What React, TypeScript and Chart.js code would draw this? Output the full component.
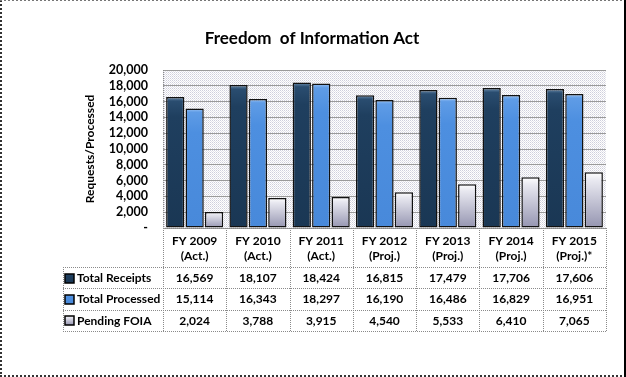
import React, { useEffect, useRef } from "react";
import { Chart, registerables } from "chart.js";

Chart.register(...registerables);

const TITLE = "Freedom  of Information Act";
const Y_TITLE = "Requests/Processed";
const CATEGORIES: string[][] = [
  ["FY 2009", "(Act.)"],
  ["FY 2010", "(Act.)"],
  ["FY 2011", "(Act.)"],
  ["FY 2012", "(Proj.)"],
  ["FY 2013", "(Proj.)"],
  ["FY 2014", "(Proj.)"],
  ["FY 2015", "(Proj.)*"],
];
const SERIES_NAMES = ["Total Receipts", "Total Processed", "Pending FOIA"];
const TOTAL_RECEIPTS = [16569, 18107, 18424, 16815, 17479, 17706, 17606];
const TOTAL_PROCESSED = [15114, 16343, 18297, 16190, 16486, 16829, 16951];
const PENDING_FOIA = [2024, 3788, 3915, 4540, 5533, 6410, 7065];
const Y_MIN = 0;
const Y_MAX = 20000;
const Y_STEP = 2000;

const FONT = "Lato, 'Liberation Sans', sans-serif";

// gradient stops per series [offset, color]
const SERIES_STOPS: [number, string][][] = [
  [
    [0, "#6d8fb0"],
    [0.03, "#2a4d70"],
    [0.15, "#1f3f5f"],
    [1, "#1a3754"],
  ],
  [
    [0, "#9cc4f4"],
    [0.03, "#5f9ce6"],
    [0.2, "#4d8fe0"],
    [1, "#4889da"],
  ],
  [
    [0, "#ffffff"],
    [0.15, "#e8e8f0"],
    [1, "#9494b0"],
  ],
];
const SERIES_FALLBACK = ["#1f3f5f", "#4d8fe0", "#b8b8cc"];

const fmt = (v: number) => v.toLocaleString("en-US");

function makeGradient(ctx: CanvasRenderingContext2D, y0: number, y1: number, stops: [number, string][]) {
  const g = ctx.createLinearGradient(0, y0, 0, y1 === y0 ? y0 + 1 : y1);
  stops.forEach(([o, c]) => g.addColorStop(o, c));
  return g;
}

const barFill = (si: number) => (c: any) => {
  const chart = c.chart;
  if (!chart.chartArea || c.type !== "data") return SERIES_FALLBACK[si];
  const y = chart.scales.y;
  const top = y.getPixelForValue(c.raw);
  const bottom = y.getPixelForValue(0);
  return makeGradient(chart.ctx, top, bottom, SERIES_STOPS[si]);
};

let patternCache: CanvasPattern | null = null;
function getPattern(ctx: CanvasRenderingContext2D) {
  if (patternCache) return patternCache;
  const c = document.createElement("canvas");
  c.width = 2;
  c.height = 2;
  const p = c.getContext("2d")!;
  p.fillStyle = "#ffffff";
  p.fillRect(0, 0, 2, 2);
  p.fillStyle = "#cfcfdc";
  p.fillRect(0, 0, 1, 1);
  p.fillStyle = "#e4e4ea";
  p.fillRect(1, 1, 1, 1);
  patternCache = ctx.createPattern(c, "repeat");
  return patternCache;
}

const decorPlugin = {
  id: "decor",
  beforeDraw(chart: any) {
    const { ctx, chartArea: a, width, height } = chart;
    ctx.save();
    ctx.fillStyle = "#ffffff";
    ctx.fillRect(0, 0, width, height);
    const pat = getPattern(ctx);
    if (pat) {
      ctx.fillStyle = pat;
      ctx.fillRect(a.left, a.top, a.right - a.left, a.bottom - a.top);
    }
    ctx.restore();
  },
  afterDraw(chart: any) {
    const { ctx, chartArea: a, width, height, scales } = chart;
    const x = scales.x;
    const n = CATEGORIES.length;
    const colW = (a.right - a.left) / n;
    const headerBottom = a.bottom + 39;
    const rowH = 21.3;
    const tableBottom = headerBottom + rowH * 3;
    const tableLeft = 63;

    ctx.save();
    ctx.strokeStyle = "#8a8a8a";
    ctx.lineWidth = 1;
    ctx.setLineDash([1, 1]);
    const hline = (y: number, x0: number, x1: number) => {
      ctx.beginPath();
      ctx.moveTo(x0, Math.round(y) + 0.5);
      ctx.lineTo(x1, Math.round(y) + 0.5);
      ctx.stroke();
    };
    const vline = (xx: number, y0: number, y1: number) => {
      ctx.beginPath();
      ctx.moveTo(Math.round(xx) + 0.5, y0);
      ctx.lineTo(Math.round(xx) + 0.5, y1);
      ctx.stroke();
    };
    hline(a.bottom, a.left, a.right);
    for (let r = 0; r <= 3; r++) hline(headerBottom + rowH * r, tableLeft, a.right);
    vline(a.left, a.top, tableBottom);
    for (let i = 1; i <= n; i++) vline(a.left + colW * i, a.bottom, tableBottom);
    vline(tableLeft, headerBottom, tableBottom);
    ctx.setLineDash([]);

    ctx.fillStyle = "#000";
    ctx.textAlign = "center";
    ctx.textBaseline = "middle";
    ctx.font = `bold 12px ${FONT}`;
    CATEGORIES.forEach((lines, i) => {
      const cx = x.getPixelForValue(i);
      lines.forEach((t, k) => ctx.fillText(t, cx, a.bottom + 13 + k * 15));
    });

    const rows = [TOTAL_RECEIPTS, TOTAL_PROCESSED, PENDING_FOIA];
    rows.forEach((vals, r) => {
      const cy = headerBottom + rowH * r + rowH / 2 + 0.5;
      const kx = 65;
      const ks = 9;
      const ky = Math.round(cy - ks / 2);
      ctx.fillStyle = makeGradient(ctx, ky, ky + ks, SERIES_STOPS[r]);
      ctx.fillRect(kx, ky, ks, ks);
      ctx.strokeStyle = "#000";
      ctx.lineWidth = 1.5;
      ctx.strokeRect(kx, ky, ks, ks);
      ctx.fillStyle = "#000";
      ctx.textAlign = "left";
      ctx.fillText(SERIES_NAMES[r], 77, cy);
      ctx.textAlign = "center";
      vals.forEach((v, i) => ctx.fillText(fmt(v), x.getPixelForValue(i), cy));
    });

    ctx.font = `bold 17px ${FONT}`;
    ctx.textAlign = "center";
    ctx.textBaseline = "alphabetic";
    ctx.fillText(TITLE, 312, 44);

    ctx.lineWidth = 2;
    ctx.strokeStyle = "#333";
    ctx.setLineDash([2, 2]);
    ctx.beginPath();
    ctx.moveTo(1, 0);
    ctx.lineTo(1, height);
    ctx.moveTo(0, height - 1);
    ctx.lineTo(width, height - 1);
    ctx.stroke();
    ctx.lineWidth = 1;
    ctx.strokeStyle = "#777";
    ctx.beginPath();
    ctx.moveTo(0, 0.5);
    ctx.lineTo(width, 0.5);
    ctx.stroke();
    ctx.setLineDash([]);
    ctx.lineWidth = 2;
    ctx.strokeStyle = "#000";
    ctx.beginPath();
    ctx.moveTo(width - 1, 0);
    ctx.lineTo(width - 1, height);
    ctx.stroke();
    ctx.restore();
  },
};

export default function App() {
  const ref = useRef<HTMLCanvasElement | null>(null);
  useEffect(() => {
    if (!ref.current) return;
    const datasets = [TOTAL_RECEIPTS, TOTAL_PROCESSED, PENDING_FOIA].map((d, si) => ({
      label: SERIES_NAMES[si],
      data: d,
      backgroundColor: barFill(si),
      borderColor: "#111",
      borderWidth: 1.5,
      borderSkipped: false,
      categoryPercentage: 0.92,
      barPercentage: 0.94,
    }));
    const chart = new Chart(ref.current, {
      type: "bar",
      data: { labels: CATEGORIES.map((c) => c.join(" ")), datasets },
      options: {
        animation: false,
        responsive: false,
        devicePixelRatio: 1,
        layout: { padding: { left: 20, right: 20, top: 70, bottom: 149 } },
        plugins: { legend: { display: false }, tooltip: { enabled: false }, title: { display: false } },
        scales: {
          x: { display: false },
          y: {
            min: Y_MIN,
            max: Y_MAX,
            afterFit: (s: any) => {
              s.width = 143;
            },
            grid: { color: "#9a9a9a", drawTicks: false, lineWidth: 1 },
            border: { display: false },
            ticks: {
              stepSize: Y_STEP,
              autoSkip: false,
              padding: 15,
              color: "#000",
              font: { family: FONT, size: 12.5, weight: "bold" },
              callback: (v: any) => (Number(v) === 0 ? "-" : fmt(Number(v))),
            },
            title: {
              display: true,
              text: Y_TITLE,
              color: "#000",
              font: { family: FONT, size: 12, weight: "bold" },
              padding: { top: 63, bottom: 0 },
            },
          },
        },
      },
      plugins: [decorPlugin],
    });
    return () => chart.destroy();
  }, []);
  return (
    <div style={{ position: "fixed", left: 0, top: 0, width: 626, height: 377, background: "#fff" }}>
      <canvas ref={ref} width={626} height={377} style={{ display: "block" }} />
    </div>
  );
}
